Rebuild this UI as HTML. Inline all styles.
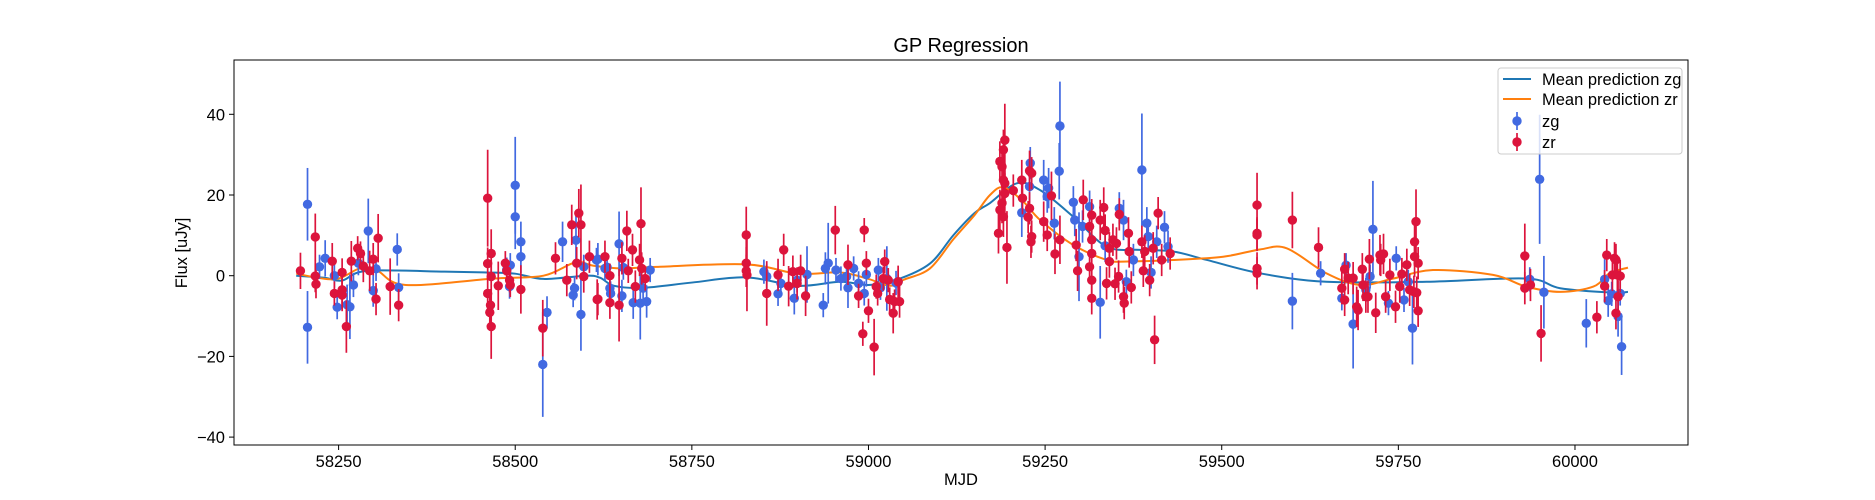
<!DOCTYPE html>
<html><head><meta charset="utf-8"><style>
body{margin:0;background:#fff;}
svg{display:block;font-family:"Liberation Sans","DejaVu Sans",sans-serif;}
</style></head><body>
<svg id="chart" width="1875" height="500" viewBox="0 0 1875 500">
<rect width="1875" height="500" fill="#fff"/>
<text x="961" y="52" text-anchor="middle" font-size="20">GP Regression</text>
<g id="plot"></g>
<g id="axes"></g>
<text x="961" y="485" text-anchor="middle" font-size="16.5">MJD</text>
<text transform="translate(187,253) rotate(-90)" text-anchor="middle" font-size="16.5">Flux [uJy]</text>
<g>
<rect x="1498" y="68" width="184" height="86" rx="3" fill="#fff" fill-opacity="0.8" stroke="#ccc"/>
<g><line x1="1503" y1="79" x2="1531" y2="79" stroke="#1f77b4" stroke-width="2"/><text x="1542" y="85" font-size="16.5">Mean prediction zg</text></g>
<g><line x1="1503" y1="99" x2="1531" y2="99" stroke="#ff7f0e" stroke-width="2"/><text x="1542" y="105" font-size="16.5">Mean prediction zr</text></g>
<g><line x1="1517" y1="112" x2="1517" y2="130" stroke="#4169e1" stroke-width="1.7"/><circle cx="1517" cy="121" r="4.7" fill="#4169e1"/><text x="1542" y="127" font-size="16.5">zg</text></g>
<g><line x1="1517" y1="133" x2="1517" y2="151" stroke="#dc143c" stroke-width="1.7"/><circle cx="1517" cy="142" r="4.7" fill="#dc143c"/><text x="1542" y="148" font-size="16.5">zr</text></g>
</g>
</svg>
<script>
const xTicks=[58250,58500,58750,59000,59250,59500,59750,60000];
const yTicks=[-40,-20,0,20,40];
const zgCurveMJD=[58190,58230,58255,58290,58400,58460,58500,58540,58600,58620,58640,58680,58750,58827,58900,58960,59000,59040,59087,59120,59150,59172,59210,59243,59290,59337,59384,59431,59479,59554,59648,59790,59931,59979,60054,60075];
const zgCurveVal=[0,-0.5,-1.2,1.2,1.0,0.8,0.5,-0.8,0,-0.5,-2.5,-3,-1.7,-0.4,-2.5,-1.5,-2.3,-1,3,10,15.5,18,22.9,21.2,14.6,7.2,6.4,6,3.9,0.6,-1.5,-1.5,-0.7,-3.1,-4.2,-4];
const zrCurveMJD=[58190,58244,58280,58305,58345,58470,58540,58585,58610,58650,58700,58827,58900,58960,59000,59030,59050,59087,59120,59150,59172,59191,59219,59243,59290,59337,59361,59431,59502,59554,59592,59648,59696,59743,59799,59884,59931,59979,60026,60049,60075];
const zrCurveVal=[0.5,-0.9,1.8,1.2,-2.3,-0.7,0,3.3,2.5,1.8,2.2,2.8,0.5,0.8,-0.8,-2.5,-1,1.8,9,15,20,21.9,18.4,13.8,7.6,3.9,3.5,3.9,4.7,6.5,6.8,0.6,-2.3,-0.7,1.4,0.2,-2.7,-4,-2.7,0.6,2];
const zgData=[[58206,17.7,9],[58206,-12.8,9],[58223,2.2,3],[58231,4.3,4.5],[58244,0,3],[58248,-7.8,3],[58262,-7.2,5],[58266,-7.7,8],[58271,-2.3,3],[58278,3.1,3],[58292,11.1,8],[58299,-3.7,4],[58303,1.7,3],[58333,6.5,4],[58335,-2.9,3.5],
[58488,1.5,3],[58492,-2.7,3],[58493,2.6,3],[58500,22.4,12],[58500,14.6,8],[58508,8.4,5],[58508,4.7,4],[58539,-22,13],[58545,-9.1,4],[58567,8.4,5],[58586,8.8,6],[58582,-4.8,3],[58584,-3.1,3],[58593,-9.6,9],[58597,2.2,3],[58617,4.1,4],[58627,1.8,3],
[58615,3.9,3],[58630,2.1,3],[58634,-3.1,3],[58635,-4.4,3],[58647,7.9,8],[58681,-3.1,3],[58691,1.4,3],[58667,-6.7,4],[58677,-6.8,9],[58686,-6.4,4],[58651,-5,4],[58653,2,3],
[58852,1.0,3],[58856,-0.2,3],[58876,-1.9,3],[58872,-4.5,3],[58895,-5.6,4],[58899,-1.1,3],[58913,0.3,7],[58936,-7.3,3],[58939,1.8,4],[58943,3.1,10],[58954,1.4,3],[58961,-0.7,3],[58969,-0.2,3],[58971,-3,5],[58979,1.8,3],[58986,-1.9,3],[58994,-4.4,3],[58997,0.3,3],[59014,1.4,3],[59017,-3,3],[59026,-0.7,8],[59042,-1.5,3],[59039,-1.8,3],
[59217,15.6,6],[59229,27.9,4],[59228,22.1,4],[59248,23.7,5],[59255,21.7,5],[59253,19.6,4],[59263,13,4],[59271,37.1,11],[59270,25.9,7],[59290,18.2,4],[59292,13.8,4],[59298,4.7,11],[59303,12.2,4],[59313,17.1,4],[59328,-6.6,9],[59335,7.4,4],[59355,16.7,4],[59361,13.8,5],[59365,-1.5,3],[59375,3.9,4],[59387,26.2,14],[59394,13,4],[59396,9.7,4],[59400,0.8,4],[59408,8.4,4],[59419,12,4],[59424,7.2,4],
[59600,-6.3,7],[59640,0.6,3],[59670,-5.6,3],[59676,2.6,3],[59686,-12,11],[59704,-3.5,3],[59710,-0.2,3],[59714,11.5,12],[59736,-6.8,3],[59747,4.3,3],[59758,-6,3],[59764,-1.5,3],[59770,-13,9],[59936,-0.9,3],[59950,23.9,16],[59956,-4.1,9],[60016,-11.8,6],[60042,-0.9,5],[60047,-6.2,4],[60052,-4.5,3],[60061,-10.1,5],[60066,-17.6,7],[60064,-4.4,3]];
const zrData=[[58196,1.2,4.5],[58217,9.6,5.8],[58217,-0.1,4],[58218,-2.1,3.5],[58241,3.6,4.5],[58244,-4.4,3],[58255,0.8,3.5],[58255,-3.5,4],[58255,-4.8,4],[58261,-12.6,6.5],[58268,3.6,5],[58277,6.8,3],[58281,5.5,3],[58285,2.4,4],[58294,1.2,5],[58299,4.1,4],[58303,-5.8,4],[58306,9.3,6],[58323,-2.7,7],[58335,-7.3,4],
[58461,19.2,12],[58461,3,4],[58461,-4.4,4],[58466,5.5,6],[58466,-0.2,4],[58465,-7.3,4],[58464,-9.1,4],[58466,-12.6,8],[58476,-2.5,6],[58486,3.1,3],[58488,1.2,3],[58492,-1.1,3],[58493,-2.3,3],[58508,-3.4,6],[58539,-13,7],[58557,4.3,4],[58573,-1.1,4],[58580,12.6,5],[58590,15.5,6],[58593,12.6,10],[58587,3.1,4],[58597,-0.2,4],[58605,4.7,4],[58617,-5.8,4],[58627,4.7,4],
[58616,-5.9,5],[58634,0,3],[58634,-6.7,4],[58647,-7.3,9],[58658,11.1,5],[58651,4.3,4],[58666,6.4,4],[58678,12.9,9],[58676,3.9,4],[58679,1.8,4],[58670,-2.7,4],[58684,-0.7,3],[58660,1.2,3],
[58827,10.1,7],[58827,3.1,4],[58827,1.2,4],[58828,0.2,9],[58856,-4.4,8],[58872,0.2,4],[58880,6.4,4],[58887,-2.6,5],[58893,1,4],[58899,-1.9,4],[58904,1.2,4],[58911,-5,5],[58953,11.3,6],[58971,2.7,5],[58986,-5,3],[58994,11.3,3],[58997,3.1,3],[59000,-8.7,3],[58992,-14.4,3],[59008,-17.7,7],[59023,3.5,3],[59011,-2.7,3],[59013,-4.4,3],[59021,-0.7,3],[59028,-1.1,3],[59030,-5.9,3],[59035,-9.3,5],[59042,-1.5,4],[59044,-6.4,4],[59037,-6.4,3],
[59193,33.6,9],[59191,31.2,5],[59186,28.3,5],[59189,27,5],[59191,23.7,5],[59193,20.4,5],[59189,18,5],[59191,14.6,5],[59184,10.5,5],[59196,7,9],[59186,16.3,5],[59193,22.9,5],[59205,21.1,4],[59217,23.7,5],[59218,19.2,4],[59228,26,5],[59231,25.4,4],[59228,16.7,4],[59226,14.5,4],[59231,9.7,4],[59230,8.4,4],[59259,19.8,6],[59248,13.4,5],[59253,10.1,4],[59264,5.4,5],[59271,8.9,6],[59294,7.6,4],[59296,1.2,5],[59304,18.8,5],[59316,15,4],[59313,12.2,4],[59316,8.9,4],[59316,5.5,4],[59313,2.2,4],[59316,-1.1,4],[59316,-5.6,4],[59328,13.8,5],[59333,16.9,5],[59335,11.2,4],[59341,3.5,4],[59341,6.8,4],[59337,-1.9,4],[59346,8.9,4],[59351,8,4],[59355,15.2,4],[59349,-2,4],[59354,-0.2,4],[59361,-5.2,4],[59362,-6.8,4],[59368,10.5,4],[59369,6,4],[59372,-2.9,4],[59387,8.4,4],[59389,1.2,4],[59391,6,4],[59398,-1.1,4],[59403,6.8,4],[59410,15.5,4],[59415,3.9,4],[59427,5.5,4],[59405,-15.9,6],[59550,17.5,8],[59550,10.5,4],[59550,10.1,4],[59550,1.8,4],[59550,0.6,4],
[59600,13.8,7],[59637,7,5],[59670,-3.1,4],[59674,1.6,4],[59674,-6,4],[59679,-0.6,4],[59686,-0.6,4],[59691,-7.7,5],[59693,-8.5,5],[59699,1.6,4],[59700,-2.3,4],[59704,-5.2,4],[59709,4.1,5],[59707,-5.2,4],[59718,-9.2,5],[59724,5.1,5],[59725,3.9,4],[59729,5.4,5],[59732,-5.2,4],[59738,0.2,4],[59746,-7.7,4],[59752,-2.7,4],[59755,0.4,4],[59762,2.7,4],[59766,-3.5,4],[59772,-4,4],[59773,8.4,6],[59775,13.4,8],[59773,4.7,5],[59778,3.1,4],[59778,-8.7,4],[59776,-4.2,4],
[59929,4.9,8],[59929,-3.1,4],[59937,-2.3,4],[59952,-14.3,7],[60031,-10.3,4],[60045,5.1,4],[60042,-2.6,4],[60053,0.2,4],[60056,4.3,4],[60058,3.9,4],[60060,0.2,4],[60061,-5.2,4],[60058,-9.3,4],[60064,-0.1,4]];

const NS='http://www.w3.org/2000/svg';
const L=234,R=1688,T=60,B=445;
function xs(m){return 338.6+(m-58250)*0.7065;}
function ys(v){return 275.7-v*4.035;}
const plot=document.getElementById('plot'), axes=document.getElementById('axes');
function mk(tag,attrs,parent){const e=document.createElementNS(NS,tag);for(const k in attrs)e.setAttribute(k,attrs[k]);parent.appendChild(e);return e;}

const clip=mk('clipPath',{id:'clp'},plot);mk('rect',{x:L,y:T,width:R-L,height:B-T},clip);
const inner=mk('g',{'clip-path':'url(#clp)'},plot);

function curvePath(mx,vv){
  const p=mx.map((m,i)=>[xs(m),ys(vv[i])]);
  let d='M'+p[0][0]+','+p[0][1];
  for(let i=0;i<p.length-1;i++){
    const p0=p[Math.max(0,i-1)],p1=p[i],p2=p[i+1],p3=p[Math.min(p.length-1,i+2)];
    const c1=[p1[0]+(p2[0]-p0[0])/6,p1[1]+(p2[1]-p0[1])/6];
    const c2=[p2[0]-(p3[0]-p1[0])/6,p2[1]-(p3[1]-p1[1])/6];
    d+=' C'+c1[0]+','+c1[1]+' '+c2[0]+','+c2[1]+' '+p2[0]+','+p2[1];
  }
  return d;
}
const cg=mk('path',{d:curvePath(zgCurveMJD,zgCurveVal),fill:'none',stroke:'#1f77b4','stroke-width':2},inner);


const cr=mk('path',{d:curvePath(zrCurveMJD,zrCurveVal),fill:'none',stroke:'#ff7f0e','stroke-width':2},inner);



function drawPoints(data,color,name){
  const g=mk('g',{},inner);
  
  
  data.forEach(d=>{
    const x=xs(d[0]);
    const ln=mk('line',{x1:x,x2:x,y1:ys(d[1]-d[2]),y2:ys(d[1]+d[2]),stroke:color,'stroke-width':1.7},g);
    
    
    const c=mk('circle',{cx:x,cy:ys(d[1]),r:4.7,fill:color},g);
    
    
  });
}
drawPoints(zgData,'#4169e1','zg');
drawPoints(zrData,'#dc143c','zr');

const frame=mk('rect',{x:L,y:T,width:R-L,height:B-T,fill:'none',stroke:'#000','stroke-width':1},axes);


xTicks.forEach(t=>{
  const x=xs(t);
  mk('line',{x1:x,x2:x,y1:B,y2:B+5,stroke:'#000'},axes);
  const tx=mk('text',{x:x,y:B+22,'text-anchor':'middle','font-size':16.5},axes);
  tx.textContent=t;
  
  
});
yTicks.forEach(t=>{
  const y=ys(t);
  mk('line',{x1:L-5,x2:L,y1:y,y2:y,stroke:'#000'},axes);
  const tx=mk('text',{x:L-9,y:y+6,'text-anchor':'end','font-size':16.5},axes);
  tx.textContent=t<0?'\u2212'+Math.abs(t):t;
  
  
});
</script>
</body></html>
